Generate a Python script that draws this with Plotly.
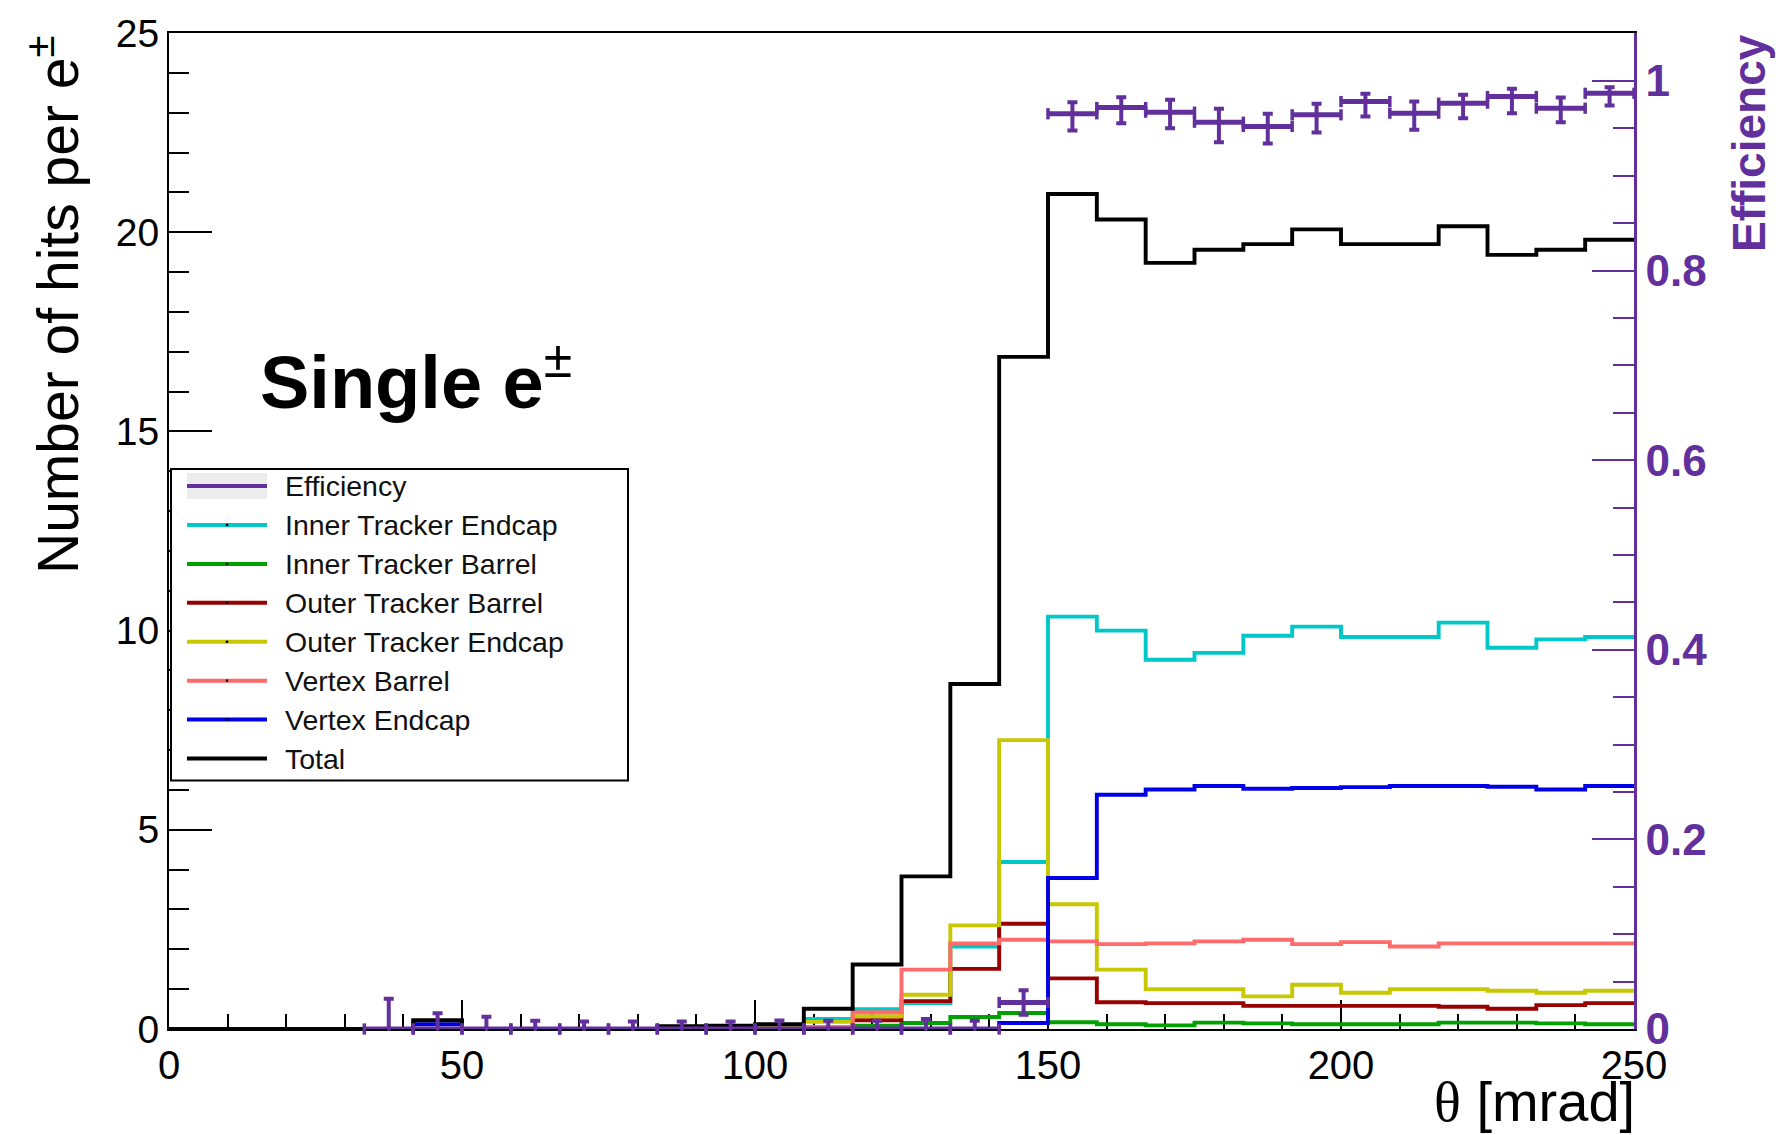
import numpy as np
import plotly.graph_objects as go

# ---------------------------------------------------------------------------
# Histogram binning in polar angle theta (mrad)
# ---------------------------------------------------------------------------
theta_min, theta_max, n_bins = 0.0, 250.0, 30
edges = np.linspace(theta_min, theta_max, n_bins + 1)
centers = 0.5 * (edges[:-1] + edges[1:])
half_width = 0.5 * (edges[1] - edges[0])

# Mean number of hits per e± in each bin (30 bins, 0-250 mrad)
total = [0, 0, 0, 0, 0, 0.22, 0, 0, 0, 0, 0.07, 0.08, 0.12, 0.51, 1.62,
         3.83, 8.66, 16.87, 20.96, 20.32, 19.23, 19.56, 19.70, 20.07, 19.70,
         19.70, 20.15, 19.43, 19.56, 19.81]
inner_tracker_endcap = [0, 0, 0, 0, 0, 0, 0, 0, 0, 0, 0, 0, 0, 0.25, 0.50,
                        0.65, 2.07, 4.19, 10.35, 10.00, 9.27, 9.44, 9.87,
                        10.10, 9.84, 9.84, 10.20, 9.57, 9.78, 9.84]
inner_tracker_barrel = [0, 0, 0, 0, 0, 0, 0, 0, 0, 0, 0, 0, 0, 0.03, 0.08,
                        0.15, 0.30, 0.40, 0.17, 0.12, 0.09, 0.16, 0.14, 0.12,
                        0.12, 0.12, 0.16, 0.16, 0.14, 0.12]
outer_tracker_barrel = [0, 0, 0, 0, 0, 0, 0, 0, 0, 0, 0, 0, 0, 0.05, 0.22,
                        0.70, 1.51, 2.64, 1.27, 0.67, 0.65, 0.65, 0.58, 0.58,
                        0.58, 0.58, 0.56, 0.51, 0.60, 0.65]
outer_tracker_endcap = [0, 0, 0, 0, 0, 0, 0, 0, 0, 0, 0, 0, 0.05, 0.18, 0.32,
                        0.86, 2.60, 7.25, 3.13, 1.49, 1.00, 1.00, 0.82, 1.11,
                        0.91, 1.00, 1.00, 0.96, 0.91, 0.96]
vertex_barrel = [0, 0, 0, 0, 0, 0, 0, 0, 0, 0, 0, 0, 0, 0.05, 0.42,
                 1.49, 2.15, 2.24, 2.20, 2.13, 2.15, 2.20, 2.24, 2.13,
                 2.18, 2.07, 2.15, 2.15, 2.15, 2.15]
vertex_endcap = [0, 0, 0, 0, 0, 0.12, 0, 0, 0, 0, 0, 0, 0, 0, 0,
                 0, 0, 0.15, 3.79, 5.88, 6.01, 6.10, 6.03, 6.05,
                 6.07, 6.10, 6.10, 6.08, 6.01, 6.10]

# Tracking efficiency, defined from bin index 4 (33.3 mrad) onwards
eff_first_bin = 4
efficiency = [0, 0, 0, 0, 0, 0, 0, 0, 0, 0, 0, 0, 0, 0.028,
              0.9653, 0.9719, 0.9670, 0.9564, 0.9519, 0.9642,
              0.9782, 0.9659, 0.9765, 0.9835, 0.9712, 0.9869]
eff_err_up = [0.032, 0.0165, 0.013, 0.0088, 0.008, 0.008, 0.008, 0.008,
              0.009, 0.0088, 0.0088, 0.0105, 0.0088, 0.013,
              0.0122, 0.0109, 0.0130, 0.0141, 0.0134, 0.0116,
              0.0081, 0.0123, 0.0088, 0.0081, 0.0112, 0.0064]
eff_err_down = [0, 0, 0, 0, 0, 0, 0, 0, 0, 0, 0, 0, 0, 0.013,
                0.0176, 0.0165, 0.0169, 0.0210, 0.0180, 0.0186,
                0.0158, 0.0175, 0.0158, 0.0176, 0.0148, 0.0129]

# Axis tick labels
x_ticks = [0, 50, 100, 150, 200, 250]
y_ticks = [0, 5, 10, 15, 20, 25]
eff_ticks = [0, 0.2, 0.4, 0.6, 0.8, 1.0]

# ---------------------------------------------------------------------------
# Styling
# ---------------------------------------------------------------------------
PURPLE = "#62309c"
COLORS = {
    "Inner Tracker Endcap": "#00c8c8",
    "Inner Tracker Barrel": "#00a000",
    "Outer Tracker Barrel": "#990000",
    "Outer Tracker Endcap": "#c8c800",
    "Vertex Barrel": "#ff6a6a",
    "Vertex Endcap": "#0000e6",
    "Total": "#000000",
}
FONT = "Liberation Sans, Arial, sans-serif"

W, H = 1783, 1135
L, R, T, B = 169, 149, 31, 106
PW, PH = W - L - R, H - T - B


def px(xp):
    """Horizontal pixel position -> paper coordinate."""
    return (xp - L) / PW


def py(yp):
    """Vertical pixel position (from top) -> paper coordinate."""
    return (H - B - yp) / PH


fig = go.Figure()

# Step histograms, drawn in this order so that Total sits on top
hist_series = [
    ("Inner Tracker Endcap", inner_tracker_endcap),
    ("Inner Tracker Barrel", inner_tracker_barrel),
    ("Outer Tracker Barrel", outer_tracker_barrel),
    ("Outer Tracker Endcap", outer_tracker_endcap),
    ("Vertex Barrel", vertex_barrel),
    ("Vertex Endcap", vertex_endcap),
    ("Total", total),
]
for name, vals in hist_series:
    yv = list(vals) + [vals[-1]]
    fig.add_trace(go.Scatter(
        x=edges, y=yv, mode="lines", name=name,
        line=dict(color=COLORS[name], width=3.9, shape="hv"),
        showlegend=False, hoverinfo="skip",
    ))

# Efficiency: horizontal bin-width bars (one segment per bin, with end caps)
eff_x = centers[eff_first_bin:]
eff_lo = edges[eff_first_bin:-1]
eff_hi = edges[eff_first_bin + 1:]
seg_x, seg_y = [], []
for lo, hi, v in zip(eff_lo, eff_hi, efficiency):
    seg_x += [lo, hi, None]
    seg_y += [v, v, None]
fig.add_trace(go.Scatter(
    x=seg_x, y=seg_y, mode="lines+markers", yaxis="y2",
    line=dict(color=PURPLE, width=5),
    marker=dict(symbol="line-ns", size=8, color=PURPLE,
                line=dict(color=PURPLE, width=3.5)),
    cliponaxis=False, showlegend=False, hoverinfo="skip",
))

# Efficiency: asymmetric vertical uncertainties at the bin centres
fig.add_trace(go.Scatter(
    x=eff_x, y=efficiency, mode="markers", name="Efficiency",
    yaxis="y2",
    marker=dict(color=PURPLE, size=4),
    error_y=dict(type="data", symmetric=False, array=eff_err_up,
                 arrayminus=eff_err_down, color=PURPLE, thickness=4,
                 width=5),
    cliponaxis=False, showlegend=False,
))

# ---------------------------------------------------------------------------
# Layout and axes
# ---------------------------------------------------------------------------
fig.update_layout(
    width=W, height=H,
    margin=dict(l=L, r=R, t=T, b=B, pad=0),
    paper_bgcolor="white", plot_bgcolor="white",
    font=dict(family=FONT, color="black"),
    showlegend=False,
    xaxis=dict(
        range=[theta_min, theta_max], tickvals=x_ticks,
        ticktext=[str(v) for v in x_ticks],
        showline=True, linecolor="black", linewidth=2, mirror=True,
        layer="below traces",
        ticks="inside", ticklen=29, tickwidth=2, tickcolor="black",
        minor=dict(dtick=10, tick0=0, ticks="inside", ticklen=15,
                   tickwidth=2, tickcolor="black"),
        tickfont=dict(size=40, family=FONT, color="black"),
        showgrid=False, zeroline=False,
    ),
    yaxis=dict(
        range=[0, 25], tickvals=y_ticks,
        ticktext=[str(v) for v in y_ticks],
        showline=True, linecolor="black", linewidth=2,
        ticks="inside", ticklen=43, tickwidth=2, tickcolor="black",
        minor=dict(dtick=1, tick0=0, ticks="inside", ticklen=20,
                   tickwidth=2, tickcolor="black"),
        tickfont=dict(size=39, family=FONT, color="black"),
        showgrid=False, zeroline=False,
    ),
    yaxis2=dict(
        overlaying="y", side="right", range=[0, 1.0505],
        tickvals=eff_ticks, ticktext=["0", "0.2", "0.4", "0.6", "0.8", "1"],
        showline=True, linecolor=PURPLE, linewidth=2.5,
        ticks="inside", ticklen=42, tickwidth=2, tickcolor=PURPLE,
        minor=dict(dtick=0.05, tick0=0, ticks="inside", ticklen=21,
                   tickwidth=2, tickcolor=PURPLE),
        tickfont=dict(size=44, family=FONT, color=PURPLE, weight="bold"),
        showgrid=False, zeroline=False,
    ),
)

annotations = [
    # Left axis title
    dict(text="Number of hits per e<sup>±</sup>", textangle=-90,
         xref="paper", yref="paper", x=px(54), y=py(32),
         xanchor="center", yanchor="top", showarrow=False,
         font=dict(size=57, family=FONT, color="black")),
    # Right axis title
    dict(text="<b>Efficiency</b>", textangle=-90,
         xref="paper", yref="paper", x=px(1749), y=py(30),
         xanchor="center", yanchor="top", showarrow=False,
         font=dict(size=46, family=FONT, color=PURPLE)),
    # X axis title
    dict(text='<span style="font-family:Liberation Serif">θ</span> [mrad]',
         xref="paper", yref="paper", x=px(1637), y=py(1102),
         xanchor="right", yanchor="middle", showarrow=False,
         font=dict(size=56, family=FONT, color="black")),
    # Sample label
    dict(text="<b>Single e</b><sup>±</sup>",
         xref="paper", yref="paper", x=px(258), y=py(376),
         xanchor="left", yanchor="middle", showarrow=False,
         font=dict(size=74, family=FONT, color="black")),
]

shapes = []

# Hand-drawn legend box
lg_x0, lg_x1, lg_y0, lg_y1 = 171, 628, 468, 780
shapes.append(dict(type="rect", xref="paper", yref="paper",
                   x0=px(lg_x0), x1=px(lg_x1), y0=py(lg_y1), y1=py(lg_y0),
                   line=dict(color="black", width=2), fillcolor="white",
                   layer="above"))

legend_entries = [("Efficiency", PURPLE)] + [
    (name, COLORS[name]) for name in
    ["Inner Tracker Endcap", "Inner Tracker Barrel", "Outer Tracker Barrel",
     "Outer Tracker Endcap", "Vertex Barrel", "Vertex Endcap", "Total"]
]
row0, row_step = 485, 39
samp_x0, samp_x1, text_x = 187, 267, 283
for i, (label, color) in enumerate(legend_entries):
    yc = row0 + i * row_step
    if label == "Efficiency":
        shapes.append(dict(type="rect", xref="paper", yref="paper",
                           x0=px(samp_x0), x1=px(samp_x1),
                           y0=py(yc + 13), y1=py(yc - 13),
                           line=dict(width=0), fillcolor="#ececec",
                           layer="above"))
    shapes.append(dict(type="line", xref="paper", yref="paper",
                       x0=px(samp_x0), x1=px(samp_x1), y0=py(yc), y1=py(yc),
                       line=dict(color=color, width=4), layer="above"))
    if label not in ("Efficiency", "Total"):
        mid = 0.5 * (samp_x0 + samp_x1)
        shapes.append(dict(type="rect", xref="paper", yref="paper",
                           x0=px(mid - 1.2), x1=px(mid + 1.2),
                           y0=py(yc + 1.2), y1=py(yc - 1.2),
                           line=dict(width=0), fillcolor="black",
                           layer="above"))
    annotations.append(dict(text=label, xref="paper", yref="paper",
                            x=px(text_x), y=py(yc), xanchor="left",
                            yanchor="middle", showarrow=False,
                            font=dict(size=28.5, family=FONT,
                                      color="#111111")))

fig.update_layout(annotations=annotations, shapes=shapes)

fig.write_html("out.html")
